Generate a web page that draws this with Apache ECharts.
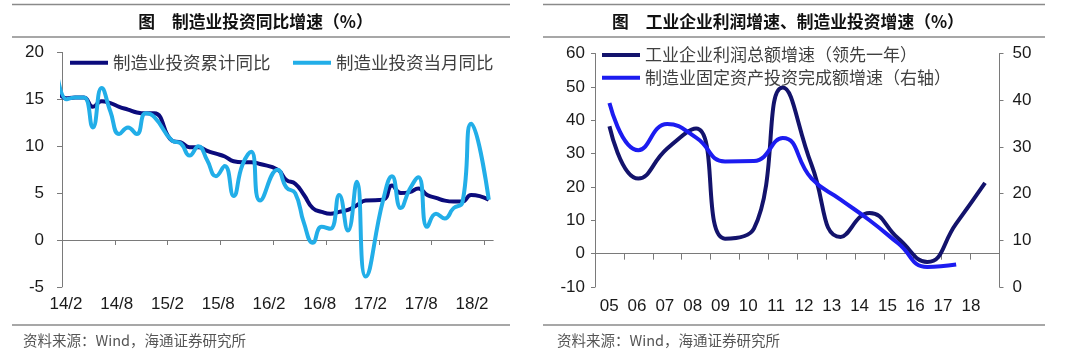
<!DOCTYPE html>
<html><head><meta charset="utf-8">
<script src="https://cdn.jsdelivr.net/npm/echarts@6/dist/echarts.min.js"></script>
<style>html,body{margin:0;padding:0;background:#fff}#c{width:1080px;height:358px}</style>
</head><body><div id="c"></div>
<script>
// ---------- text ----------
const leftTitle = '图　制造业投资同比增速（%）';
const rightTitle = '图　工业企业利润增速、制造业投资增速（%）';
const sourceText = '资料来源：Wind，海通证券研究所';
const leftSeriesNames = ['制造业投资累计同比', '制造业投资当月同比'];
const rightSeriesNames = ['工业企业利润总额增速（领先一年）', '制造业固定资产投资完成额增速（右轴）'];

// ---------- left chart data (monthly, Jan merged into Feb) ----------
const monthLabels = ['13/12',
  '14/2','14/3','14/4','14/5','14/6','14/7','14/8','14/9','14/10','14/11','14/12',
  '15/2','15/3','15/4','15/5','15/6','15/7','15/8','15/9','15/10','15/11','15/12',
  '16/2','16/3','16/4','16/5','16/6','16/7','16/8','16/9','16/10','16/11','16/12',
  '17/2','17/3','17/4','17/5','17/6','17/7','17/8','17/9','17/10','17/11','17/12',
  '18/2'];
const cumGrowth = [18.5,
  15.1,15.2,15.2,14.2,14.8,14.6,14.2,13.9,13.6,13.5,13.5,
  10.6,10.4,9.9,9.9,9.5,9.2,8.9,8.4,8.3,8.3,8.1,
  7.5,6.4,6.0,4.8,3.4,3.0,2.8,3.0,3.2,3.7,4.2,
  4.3,5.8,5.0,5.1,5.5,4.8,4.5,4.2,4.1,4.1,4.8,
  4.3];
const monthGrowth = [27.0,
  15.0,15.2,15.2,12.0,16.2,13.7,11.3,12.0,11.3,13.5,13.1,
  10.6,10.3,9.0,10.0,8.5,6.8,7.9,4.7,8.0,9.4,4.2,
  7.5,5.6,5.0,1.8,-0.3,1.4,1.2,4.8,1.0,6.2,-3.9,
  4.3,6.8,3.4,5.4,6.7,1.4,2.8,2.3,3.4,4.0,12.4,
  4.3];
const leftTickLabels = ['14/2','14/8','15/2','15/8','16/2','16/8','17/2','17/8','18/2'];

// ---------- right chart data (annual) ----------
const years = ['05','06','07','08','09','10','11','12','13','14','15','16','17','18'];
const profitGrowth = [38.2,22.5,31.5,37.5,4.5,7.5,49.8,26.5,5.0,12.2,4.5,-2.5,9.0,21.2];
const faiGrowth = [39.4,29.3,34.9,32.0,26.9,27.0,31.9,23.2,18.7,14.3,9.3,4.3,4.8];

// slot index of a month label on the monthly axis (14/2 = 0)
function slotOf(lbl){ const p = lbl.split('/').map(Number); return (p[0]-14)*12 + (p[1]-2); }

const FONT = "'Liberation Sans', 'Noto Sans CJK SC', sans-serif";
const CJK = "'Noto Sans CJK SC', 'Liberation Sans', sans-serif";
const AX = '#7a7a7a';
const LBL = '#1a1a1a';

const chart = echarts.init(document.getElementById('c'), null, {renderer:'canvas'});

function hline(x1, x2, y){
  return {type:'line', shape:{x1:x1, y1:y, x2:x2, y2:y}, style:{stroke:'#8a8a8a', lineWidth:1.5}, silent:true};
}
function txt(x, y, text, size, weight, align, color){
  return {type:'text', x:x, y:y, style:{text:text, font: weight+' '+size+'px '+CJK, fill:color, align:align, verticalAlign:'middle'}, silent:true};
}

function legendAt(name, left, top, size){
  return {data:[name], left:left, top:top, orient:'horizontal', padding:0, itemWidth:38, itemHeight:4,
    icon:'rect', selectedMode:false, textStyle:{fontFamily:CJK, color:'#404040', fontSize:size}};
}

const option = {
  animation:false,
  backgroundColor:'#fff',
  textStyle:{fontFamily:FONT},
  graphic:[
    hline(12,510,4.5), hline(12,510,37), hline(12,510,325),
    hline(543,1045,4.5), hline(543,1045,37), hline(543,1045,325),
    txt(255.5, 22, leftTitle, 16.8, 'bold', 'center', '#111'),
    txt(788, 22, rightTitle, 16.8, 'bold', 'center', '#111'),
    txt(23, 340, sourceText, 14.5, 'normal', 'left', '#555'),
    txt(557, 340, sourceText, 14.5, 'normal', 'left', '#555')
  ],
  legend:[
    legendAt(leftSeriesNames[0], 70, 54, 17.5),
    legendAt(leftSeriesNames[1], 293, 54, 17.5),
    legendAt(rightSeriesNames[0], 602, 46.5, 17),
    legendAt(rightSeriesNames[1], 602, 69.2, 17)
  ],
  grid:[
    {left:62, top:52.4, width:431.2, height:234.5, outerBoundsMode:'none'},
    {left:40.6, top:52.4, width:456.8, height:234.5, outerBoundsMode:'none'},
    {left:595, top:53.5, width:404.5, height:233.5, outerBoundsMode:'none'},
    {left:595.3, top:53.5, width:389.5, height:233.5, outerBoundsMode:'none'}
  ],
  xAxis:[
    {gridIndex:0, type:'value', min:0, max:49,
      axisLine:{show:true, onZero:true, lineStyle:{color:AX, width:1}},
      axisTick:{show:true, length:5, inside:false, customValues: leftTickLabels.map(slotOf), lineStyle:{color:AX}},
      axisLabel:{show:false}, splitLine:{show:false}},
    {gridIndex:1, type:'category', data:leftTickLabels, boundaryGap:true, position:'bottom',
      axisLine:{show:false, onZero:false}, axisTick:{show:false}, splitLine:{show:false},
      axisLabel:{show:true, interval:0, margin:9, fontSize:17, color:LBL, fontFamily:FONT}},
    {gridIndex:2, type:'category', data:years, boundaryGap:true,
      axisLine:{show:true, onZero:true, onZeroAxisIndex:2, lineStyle:{color:AX, width:1}},
      axisTick:{show:true, interval:0, length:6, lineStyle:{color:AX}},
      axisLabel:{show:false}, splitLine:{show:false}},
    {gridIndex:3, type:'category', data:years, boundaryGap:true, position:'bottom',
      axisLine:{show:false, onZero:false}, axisTick:{show:false}, splitLine:{show:false},
      axisLabel:{show:true, interval:0, margin:11, fontSize:17, color:LBL, fontFamily:FONT}}
  ],
  yAxis:[
    {gridIndex:0, type:'value', min:-5, max:20, interval:5, position:'left',
      axisLine:{show:true, lineStyle:{color:AX, width:1}},
      axisTick:{show:true, length:5, lineStyle:{color:AX}},
      axisLabel:{margin:18, fontSize:17, color:LBL, fontFamily:FONT}, splitLine:{show:false}},
    {gridIndex:1, type:'value', min:0, max:1, show:false},
    {gridIndex:2, type:'value', min:-10, max:60, interval:10, position:'left',
      axisLine:{show:true, lineStyle:{color:AX, width:1}},
      axisTick:{show:true, length:4, lineStyle:{color:AX}},
      axisLabel:{margin:10, fontSize:17, color:LBL, fontFamily:FONT}, splitLine:{show:false}},
    {gridIndex:2, type:'value', min:0, max:50, interval:10, position:'right',
      axisLine:{show:true, onZero:false, lineStyle:{color:AX, width:1}},
      axisTick:{show:true, length:4, lineStyle:{color:AX}},
      axisLabel:{margin:13, fontSize:17, color:LBL, fontFamily:FONT}, splitLine:{show:false}},
    {gridIndex:3, type:'value', min:0, max:1, show:false}
  ],
  series:[
    {name:leftSeriesNames[0], type:'line', xAxisIndex:0, yAxisIndex:0, smooth:0.5, symbol:'none',
      lineStyle:{color:'#0b0b7c', width:4}, itemStyle:{color:'#0b0b7c'},
      data: monthLabels.map((m,i)=>[slotOf(m)+0.5, cumGrowth[i]])},
    {name:leftSeriesNames[1], type:'line', xAxisIndex:0, yAxisIndex:0, smooth:0.5, symbol:'none',
      lineStyle:{color:'#22aee8', width:4}, itemStyle:{color:'#22aee8'},
      data: monthLabels.map((m,i)=>[slotOf(m)+0.5, monthGrowth[i]])},
    {name:rightSeriesNames[0], type:'line', xAxisIndex:2, yAxisIndex:2, smooth:0.5, symbol:'none',
      lineStyle:{color:'#13136c', width:4}, itemStyle:{color:'#13136c'},
      data: profitGrowth},
    {name:rightSeriesNames[1], type:'line', xAxisIndex:2, yAxisIndex:3, smooth:0.5, symbol:'none',
      lineStyle:{color:'#1c1cf0', width:4}, itemStyle:{color:'#1c1cf0'},
      data: faiGrowth}
  ]
};
chart.setOption(option);
</script></body></html>
